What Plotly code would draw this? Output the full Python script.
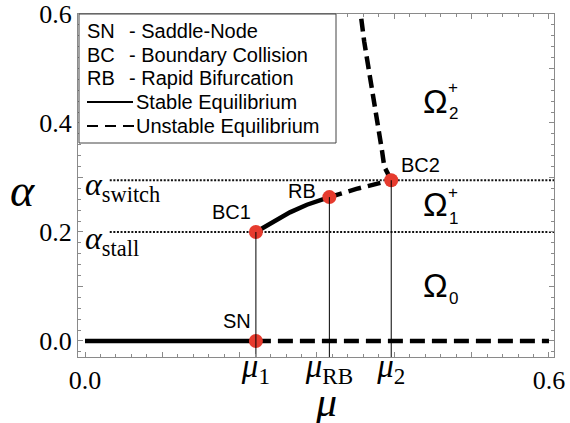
import plotly.graph_objects as go

# ---------------- data ----------------
mu1, mu_rb, mu2 = 0.221, 0.316, 0.396
alpha_stall, alpha_switch = 0.200, 0.295
alpha_rb = 0.264

# stable branch BC1 -> RB
stable_mu = [0.221, 0.243, 0.265, 0.287, 0.316]
stable_alpha = [0.200, 0.219, 0.236, 0.250, 0.264]
# unstable branch RB -> BC2
unst_mu = [0.316, 0.351, 0.396]
unst_alpha = [0.264, 0.279, 0.295]
# unstable upper branch BC2 -> top
upper_mu = [0.396, 0.392, 0.387, 0.384, 0.378, 0.372, 0.366, 0.361, 0.3565]
upper_alpha = [0.295, 0.305, 0.320, 0.350, 0.400, 0.450, 0.500, 0.550, 0.600]

# bifurcation points
pt_names = ["SN", "BC1", "RB", "BC2"]
pt_mu = [mu1, mu1, mu_rb, mu2]
pt_alpha = [0.0, alpha_stall, alpha_rb, alpha_switch]

x_range = [-0.00905, 0.6065]
y_range = [-0.0294, 0.600]

SERIF = "Liberation Serif"
SANS = "Liberation Sans"
RED = "#E63B2E"
FRAME = "#8a8a8a"

W, H = 570, 423
ML, MR, MT, MB = 78, 16, 14, 66
PW, PH = W - ML - MR, H - MT - MB


def px(x):
    return (x - ML) / PW


def py(y):
    return (H - MB - y) / PH


fig = go.Figure()

# alpha = 0 line: stable then unstable
fig.add_trace(go.Scatter(x=[0.0, mu1], y=[0.0, 0.0], mode="lines",
                         line=dict(color="black", width=4.5), hoverinfo="skip"))
fig.add_trace(go.Scatter(x=[mu1, 0.6], y=[0.0, 0.0], mode="lines",
                         line=dict(color="black", width=4.5, dash="15px,7px"), hoverinfo="skip"))

# dotted thresholds
for a in (alpha_switch, alpha_stall):
    fig.add_trace(go.Scatter(x=[0.032, x_range[1]], y=[a, a], mode="lines",
                             line=dict(color="#111111", width=2, dash="2px,1.6px"), hoverinfo="skip"))

# vertical guide lines (on x2, same scale)
for m, a in [(mu1, alpha_stall), (mu_rb, alpha_rb), (mu2, alpha_switch)]:
    fig.add_trace(go.Scatter(x=[m, m], y=[y_range[0], a], mode="lines", xaxis="x2",
                             line=dict(color="black", width=1), hoverinfo="skip"))

# branches
fig.add_trace(go.Scatter(x=stable_mu, y=stable_alpha, mode="lines",
                         line=dict(color="black", width=4.5), hoverinfo="skip"))
fig.add_trace(go.Scatter(x=unst_mu, y=unst_alpha, mode="lines",
                         line=dict(color="black", width=4.5, dash="13px,7px"), hoverinfo="skip"))
fig.add_trace(go.Scatter(x=upper_mu, y=upper_alpha, mode="lines",
                         line=dict(color="black", width=4.5, dash="13px,6px"), hoverinfo="skip"))

# points
fig.add_trace(go.Scatter(x=pt_mu, y=pt_alpha, mode="markers",
                         marker=dict(color=RED, size=14, line=dict(width=0)), hoverinfo="skip"))

ann = []
# point labels
lab_pos = {"SN": (237, 321), "BC1": (231, 212), "RB": (302, 191), "BC2": (420, 165)}
for n in pt_names:
    x0, y0 = lab_pos[n]
    ann.append(dict(x=px(x0), y=py(y0), xref="paper", yref="paper", text=n, showarrow=False,
                    font=dict(family=SANS, size=20, color="black"), xanchor="center", yanchor="middle"))

# threshold labels
ann.append(dict(x=px(83), y=py(187), xref="paper", yref="paper",
                text="<i>α</i><sub>switch</sub>", showarrow=False,
                font=dict(family=SERIF, size=32, color="black"), xanchor="left", yanchor="middle"))
ann.append(dict(x=px(83), y=py(240), xref="paper", yref="paper",
                text="<i>α</i><sub>stall</sub>", showarrow=False,
                font=dict(family=SERIF, size=32, color="black"), xanchor="left", yanchor="middle"))

# region labels
regions = [("2", "+", 101), ("1", "+", 205), ("0", "", 285)]
for sub, sup, yc in regions:
    ann.append(dict(x=px(435), y=py(yc), xref="paper", yref="paper", text="Ω", showarrow=False,
                    font=dict(family=SANS, size=33, color="black"), xanchor="center", yanchor="middle"))
    ann.append(dict(x=px(453), y=py(yc + 13), xref="paper", yref="paper", text=sub, showarrow=False,
                    font=dict(family=SANS, size=17, color="black"), xanchor="center", yanchor="middle"))
    if sup:
        ann.append(dict(x=px(453), y=py(yc - 13), xref="paper", yref="paper", text=sup, showarrow=False,
                        font=dict(family=SANS, size=17, color="black"), xanchor="center", yanchor="middle"))

# axis titles
ann.append(dict(x=px(22), y=py(190), xref="paper", yref="paper", text="<i>α</i>", showarrow=False,
                font=dict(family=SERIF, size=46, color="black"), xanchor="center", yanchor="middle"))
ann.append(dict(x=px(326), y=py(402), xref="paper", yref="paper", text="<i>μ</i>", showarrow=False,
                font=dict(family=SERIF, size=42, color="black"), xanchor="center", yanchor="middle"))

# legend box text
leg_rows = [("SN", "- Saddle-Node", 31), ("BC", "- Boundary Collision", 55), ("RB", "- Rapid Bifurcation", 78)]
for ab, desc, yc in leg_rows:
    ann.append(dict(x=px(85), y=py(yc), xref="paper", yref="paper", text=ab, showarrow=False,
                    font=dict(family=SANS, size=20, color="black"), xanchor="left", yanchor="middle"))
    ann.append(dict(x=px(127), y=py(yc), xref="paper", yref="paper", text=desc, showarrow=False,
                    font=dict(family=SANS, size=20, color="black"), xanchor="left", yanchor="middle"))
ann.append(dict(x=px(134), y=py(102), xref="paper", yref="paper", text="Stable Equilibrium", showarrow=False,
                font=dict(family=SANS, size=20, color="black"), xanchor="left", yanchor="middle"))
ann.append(dict(x=px(134), y=py(126), xref="paper", yref="paper", text="Unstable Equilibrium", showarrow=False,
                font=dict(family=SANS, size=20, color="black"), xanchor="left", yanchor="middle"))

shapes = [
    dict(type="rect", xref="paper", yref="paper", x0=px(79), x1=px(336), y0=py(143), y1=py(14),
         line=dict(color="#444444", width=1), fillcolor="white", layer="above"),
    dict(type="line", xref="paper", yref="paper", x0=px(87), x1=px(133), y0=py(102), y1=py(102),
         line=dict(color="black", width=2.2), layer="above"),
    dict(type="line", xref="paper", yref="paper", x0=px(87), x1=px(134), y0=py(126), y1=py(126),
         line=dict(color="black", width=2.2, dash="11px,7px"), layer="above"),
]

tick_common = dict(ticks="inside", ticklen=5, tickcolor=FRAME, tickwidth=1,
                   showline=True, linecolor=FRAME, linewidth=1, mirror="ticks",
                   showgrid=False, zeroline=False, automargin=False,
                   minor=dict(ticks="inside", ticklen=3, tickcolor=FRAME, dtick=0.02, tick0=0, showgrid=False))

fig.update_layout(
    width=W, height=H,
    margin=dict(l=ML, r=MR, t=MT, b=MB, autoexpand=False),
    paper_bgcolor="white", plot_bgcolor="white",
    showlegend=False,
    xaxis=dict(range=x_range, tickmode="array",
               tickvals=[0, 0.1, 0.2, 0.3, 0.4, 0.5, 0.6],
               ticktext=["0.0", "", "", "", "", "", "0.6"],
               tickfont=dict(family=SERIF, size=26, color="black"), **tick_common),
    xaxis2=dict(range=x_range, overlaying="x", side="bottom", tickmode="array",
                tickvals=[mu1, mu_rb, mu2],
                ticktext=["<i>μ</i><sub>1</sub>", "<i>μ</i><sub>RB</sub>", "<i>μ</i><sub>2</sub>"],
                tickfont=dict(family=SERIF, size=33, color="black"), automargin=False,
                ticklabelstandoff=-14,
                ticks="", showline=False, showgrid=False, zeroline=False),
    yaxis=dict(range=y_range, tickmode="array",
               tickvals=[0, 0.1, 0.2, 0.3, 0.4, 0.5, 0.6],
               ticktext=["0.0", "", "0.2", "", "0.4", "", "0.6"],
               tickfont=dict(family=SERIF, size=26, color="black"), **tick_common),
    annotations=ann,
    shapes=shapes,
)

fig.write_html("out.html", config={"displayModeBar": False},
               post_script="document.body.style.margin='0';document.body.style.overflow='hidden';")
